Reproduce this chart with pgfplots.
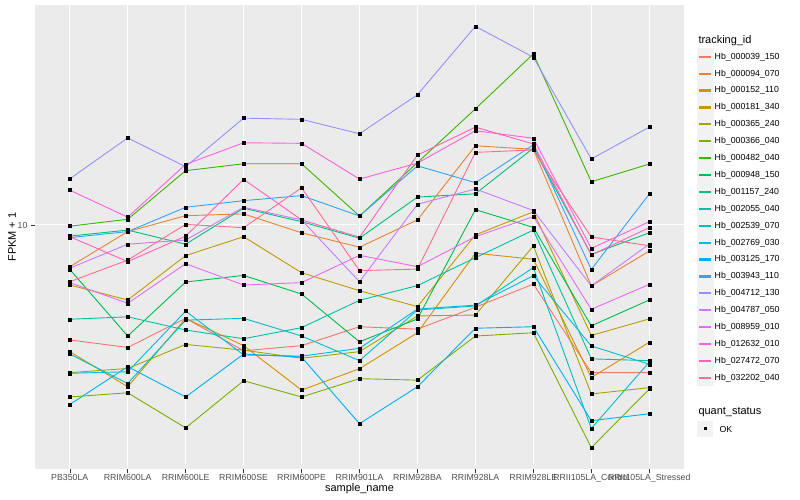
\documentclass[border=0pt]{standalone}
\usepackage{pgfplots}
\usepackage{pgfplotstable}
\pgfplotsset{compat=1.18}
\usepackage{fontspec}
\setmainfont{Liberation Sans}

\definecolor{ggbg}{HTML}{EBEBEB}
\definecolor{gg30}{HTML}{4D4D4D}
\definecolor{gg20}{HTML}{333333}
\definecolor{c1}{HTML}{F8766D}
\definecolor{c2}{HTML}{EA8331}
\definecolor{c3}{HTML}{D89000}
\definecolor{c4}{HTML}{C09B00}
\definecolor{c5}{HTML}{A3A500}
\definecolor{c6}{HTML}{7CAE00}
\definecolor{c7}{HTML}{39B600}
\definecolor{c8}{HTML}{00BB4E}
\definecolor{c9}{HTML}{00BF7D}
\definecolor{c10}{HTML}{00C1A3}
\definecolor{c11}{HTML}{00BFC4}
\definecolor{c12}{HTML}{00BAE0}
\definecolor{c13}{HTML}{00B0F6}
\definecolor{c14}{HTML}{35A2FF}
\definecolor{c15}{HTML}{9590FF}
\definecolor{c16}{HTML}{C77CFF}
\definecolor{c17}{HTML}{E76BF3}
\definecolor{c18}{HTML}{FA62DB}
\definecolor{c19}{HTML}{FF62BC}
\definecolor{c20}{HTML}{FF6C91}

% log10(FPKM + 1), one row per sample, one column per gene
\pgfplotstableread{
x s1 s2 s3 s4 s5 s6 s7 s8 s9 s10 s11 s12 s13 s14 s15 s16 s17 s18 s19 s20
0 0.617 0.861 0.578 0.800 0.508 0.427 0.996 0.852 0.963 0.686 0.570 0.506 0.402 0.958 1.154 0.856 0.808 1.116 0.961 0.811
1 0.592 0.978 0.461 0.750 0.522 0.441 1.019 0.630 0.983 0.694 0.472 0.511 0.528 0.978 1.290 0.936 0.739 1.026 0.878 0.883
2 0.689 1.031 0.689 0.898 0.602 0.324 1.181 0.810 0.936 0.650 0.683 0.713 0.427 1.059 1.194 0.950 0.871 1.202 0.963 1.002
3 0.581 1.037 0.598 0.961 0.583 0.481 1.204 0.832 1.056 0.621 0.689 0.567 0.570 1.081 1.356 1.059 0.800 1.274 1.152 0.991
4 0.598 0.974 0.450 0.841 0.556 0.427 1.204 0.770 1.011 0.658 0.630 0.563 0.560 1.098 1.352 1.017 0.808 1.272 1.017 1.124
5 0.661 0.926 0.521 0.781 0.578 0.488 1.030 0.611 0.956 0.749 0.548 0.589 0.338 1.030 1.304 0.811 0.899 1.153 0.959 0.848
6 0.653 1.017 0.641 0.728 0.697 0.483 1.208 0.687 1.093 0.798 0.717 0.720 0.461 1.197 1.434 1.069 0.861 1.206 1.233 0.853
7 0.726 1.264 0.906 0.967 0.700 0.630 1.387 1.051 1.104 0.891 0.730 0.733 0.656 1.141 1.662 1.120 0.961 1.314 1.326 1.242
8 0.803 1.252 0.886 1.044 0.930 0.641 1.570 0.992 1.256 0.983 0.858 0.831 0.661 1.267 1.559 1.048 1.028 1.289 1.270 1.250
9 0.508 0.797 0.492 0.632 0.437 0.258 1.144 0.664 0.902 0.554 0.322 0.597 0.348 0.852 1.220 0.797 0.719 0.922 0.900 0.960
10 0.508 0.913 0.609 0.687 0.458 0.453 1.203 0.750 0.974 0.548 0.543 0.536 0.371 1.103 1.326 0.936 0.802 1.011 0.991 0.931
}\gene

\begin{document}
\begin{tikzpicture}
\useasboundingbox (0,0) rectangle (800bp,500bp);
\begin{axis}[
  at={(35bp,31bp)}, anchor=south west,
  scale only axis, width=649bp, height=464bp,
  xmin=-0.6, xmax=10.6, ymin=0.187, ymax=1.733,
  axis background/.style={fill=ggbg},
  axis line style={draw=none},
  tick align=outside, tick pos=left, major tick length=4bp,
  tick style={gg20, line width=0.5bp},
  grid=major, major grid style={white, line width=1bp},
  xtick={0,...,10},
  xticklabels={PB350LA,RRIM600LA,RRIM600LE,RRIM600SE,RRIM600PE,RRIM901LA,RRIM928BA,RRIM928LA,RRIM928LE,RRII105LA\_Control,RRII105LA\_Stressed},
  ytick={1}, yticklabels={10},
  ticklabel style={font=\fontsize{8.8}{10}\selectfont, text=gg30},
  xticklabel style={yshift=2.5bp},
  xlabel={sample\_name}, ylabel={FPKM + 1},
  label style={font=\fontsize{11}{12}\selectfont},
  xlabel style={at={(axis description cs:0.5,-0.0431)}, anchor=center},
  ylabel style={at={(axis description cs:-0.0354,0.5)}, anchor=center},
  legend image code/.code={\fill[black!5] (0bp,-8bp) rectangle (16bp,8bp);
    \draw[#1, line width=2.2bp] (2bp,0bp) -- (14bp,0bp);},
  legend cell align=left,
  legend style={at={(1.0200,0.9067)}, anchor=north west, draw=none, fill=none,
    inner sep=0pt, outer sep=0pt, row sep=0pt,
    font=\fontsize{8.8}{10}\selectfont, nodes={inner sep=0.85bp},
    /tikz/every even column/.style={column sep=2.5bp}},
  legend entries={Hb\_000039\_150,Hb\_000094\_070,Hb\_000152\_110,Hb\_000181\_340,Hb\_000365\_240,Hb\_000366\_040,Hb\_000482\_040,Hb\_000948\_150,Hb\_001157\_240,Hb\_002055\_040,Hb\_002539\_070,Hb\_002769\_030,Hb\_003125\_170,Hb\_003943\_110,Hb\_004712\_130,Hb\_004787\_050,Hb\_008959\_010,Hb\_012632\_010,Hb\_027472\_070,Hb\_032202\_040},
]
\pgfplotsinvokeforeach{1,...,20}{
  \addplot[color=c#1, line width=0.9bp, mark=none] table[x=x, y=s#1] {\gene};
}
\pgfplotsinvokeforeach{1,...,20}{
  \addplot[only marks, mark=square*, mark size=1.5bp, black, forget plot] table[x=x, y=s#1] {\gene};
}
\end{axis}
\node[anchor=west, font=\fontsize{11}{12}\selectfont] at (695bp,459.3bp) {tracking\_id};
\node[anchor=west, font=\fontsize{11}{12}\selectfont] at (695bp,87.7bp) {quant\_status};
\fill[black!5] (697bp,63bp) rectangle (713bp,79bp);
\fill[black] (703.5bp,69.5bp) rectangle (706.5bp,72.5bp);
\node[anchor=west, font=\fontsize{8.8}{10}\selectfont] at (716bp,71bp) {OK};
\end{tikzpicture}
\end{document}
